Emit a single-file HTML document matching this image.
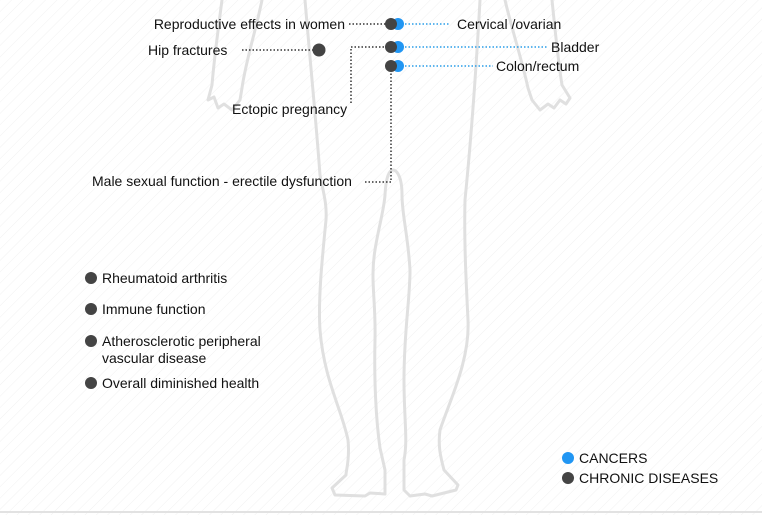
<!DOCTYPE html>
<html><head><meta charset="utf-8"><style>
body{margin:0;width:762px;height:515px;overflow:hidden;background:#fff;font-family:"Liberation Sans",Arial,sans-serif;}
svg{position:absolute;left:0;top:0}
</style></head><body>
<svg width="762" height="515" viewBox="0 0 762 515">
<defs><pattern id="st" width="8" height="8" patternUnits="userSpaceOnUse" patternTransform="rotate(45)"><rect width="8" height="8" fill="#fff"/><line x1="0" y1="0" x2="0" y2="8" stroke="#f1f1f1" stroke-width="1"/></pattern></defs>
<rect width="762" height="515" fill="url(#st)"/>
<line x1="0" y1="512" x2="762" y2="512" stroke="#e2e2e2" stroke-width="2"/>
<g fill="none" stroke="#e0e0e0" stroke-width="3" stroke-linejoin="round" stroke-linecap="round">
<path d="M222,0 C218,30 214,60 212,85 L208,100 L214,97 L218,108 L224,104 L232,110 L240,100 L242,88 C246,60 256,30 262,0"/>
<path d="M505,0 C512,30 522,60 528,88 L532,100 L540,110 L548,104 L554,108 L560,100 L566,104 L570,98 L562,85 C558,60 555,30 552,0"/>
<path d="M305,0 C310,60 316,120 320,175 C324,195 327,205 326,220 C322,260 318,300 320,330 C324,380 342,410 348,440 C350,460 346,470 346,475 L332,488 L335,495 L365,496 L370,493 L385,494 L385,470 L380,448 C376,420 374,380 375,340 C376,300 370,280 375,250 C378,230 384,210 385,195 C386,175 390,170 393,170 C396,170 402,175 402,195 C402,215 408,235 410,270 C410,300 404,330 404,380 C404,420 408,440 404,460 L404,490 L410,496 L425,494 L432,496 L456,490 L458,485 L444,470 C440,455 438,445 440,430 C450,400 470,360 468,320 C466,280 464,240 465,200 C470,150 475,90 480,0"/>
</g>
<g stroke="#333" stroke-width="1.5" stroke-dasharray="1.5,2" fill="none">
<line x1="349" y1="24" x2="386" y2="24"/>
<line x1="242" y1="50" x2="313" y2="50"/>
<path d="M351,103 L351,47 L386,47"/>
<path d="M391,70 L391,182 L365,182"/>
</g>
<g stroke="#2a9ee8" stroke-width="1.5" stroke-dasharray="1.5,2" fill="none">
<line x1="405" y1="24" x2="450" y2="24"/>
<line x1="405" y1="47" x2="548" y2="47"/>
<line x1="405" y1="66" x2="493" y2="66"/>
</g>
<g fill="#2196f3"><circle cx="398" cy="24" r="6"/><circle cx="398" cy="47" r="6"/><circle cx="398" cy="66" r="6"/><circle cx="568" cy="458" r="6"/></g>
<g fill="#444"><circle cx="391" cy="24" r="6"/><circle cx="391" cy="47" r="6"/><circle cx="391" cy="66" r="6"/><circle cx="319" cy="50" r="6.5"/><circle cx="568" cy="478" r="6"/>
<circle cx="91" cy="278" r="6"/><circle cx="91" cy="309" r="6"/><circle cx="91" cy="341" r="6"/><circle cx="91" cy="383" r="6"/></g>
<g font-family="Liberation Sans, Arial, sans-serif" font-size="14" fill="#111">
<text x="345" y="29" text-anchor="end">Reproductive effects in women</text>
<text x="148" y="55">Hip fractures</text>
<text x="232" y="114">Ectopic pregnancy</text>
<text x="92" y="186">Male sexual function - erectile dysfunction</text>
<text x="457" y="29">Cervical /ovarian</text>
<text x="551" y="52">Bladder</text>
<text x="496" y="71">Colon/rectum</text>
<text x="102" y="283">Rheumatoid arthritis</text>
<text x="102" y="314">Immune function</text>
<text x="102" y="346">Atherosclerotic peripheral</text>
<text x="102" y="363">vascular disease</text>
<text x="102" y="388">Overall diminished health</text>
<text x="579" y="463">CANCERS</text>
<text x="579" y="483">CHRONIC DISEASES</text>
</g>
</svg>
</body></html>
